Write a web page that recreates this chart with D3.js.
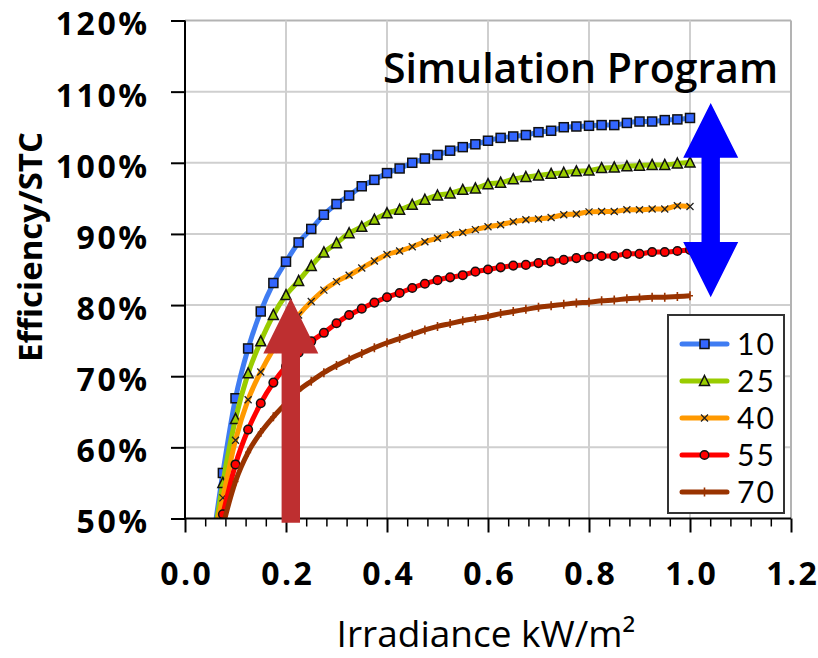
<!DOCTYPE html>
<html>
<head>
<meta charset="utf-8">
<script src="https://cdn.jsdelivr.net/npm/d3@7"></script>
<style>
  body { margin: 0; background: #fff; }
  svg text { font-family: "Open Sans", Lato, sans-serif; }
</style>
</head>
<body>
<div id="wrapper"></div>
<script>
// 1. data
const irradiance = [0.05, 0.075, 0.1, 0.125, 0.15, 0.175, 0.2, 0.225, 0.25, 0.275, 0.3, 0.325, 0.35, 0.375,
  0.4, 0.425, 0.45, 0.475, 0.5, 0.525, 0.55, 0.575, 0.6, 0.625, 0.65, 0.675, 0.7, 0.725, 0.75, 0.775,
  0.8, 0.825, 0.85, 0.875, 0.9, 0.925, 0.95, 0.975, 1.0]

const eff10 = [44.1, 56.4, 66.9, 73.9, 79.1, 83.1, 86.1, 88.8, 90.7, 92.7, 94.2, 95.4, 96.7, 97.6,
  98.55, 99.2, 100.0, 100.6, 101.1, 101.7, 102.2, 102.6, 103.1, 103.5, 103.7, 103.9, 104.3, 104.5, 105.0, 105.1,
  105.2, 105.3, 105.3, 105.6, 105.8, 105.8, 106.0, 106.1, 106.3]
const eff25 = [43.6, 55.0, 64.0, 70.4, 74.9, 78.6, 81.4, 83.4, 85.5, 87.4, 88.7, 90.1, 91.0, 92.0,
  92.9, 93.4, 94.1, 94.8, 95.4, 95.7, 96.2, 96.4, 97.0, 97.2, 97.7, 98.0, 98.2, 98.45, 98.6, 98.8,
  98.9, 99.25, 99.35, 99.5, 99.6, 99.7, 99.7, 99.9, 100.05]
const eff40 = [45.0, 52.9, 61.0, 66.7, 70.6, 73.8, 76.4, 78.6, 80.5, 82.1, 83.3, 84.2, 85.2, 86.2,
  87.1, 87.6, 88.2, 88.9, 89.4, 89.9, 90.2, 90.6, 91.0, 91.3, 91.7, 92.0, 92.1, 92.3, 92.7, 92.8,
  93.1, 93.15, 93.15, 93.4, 93.4, 93.5, 93.5, 93.95, 93.85]
const eff55 = [43.0, 50.6, 57.6, 62.5, 66.2, 69.1, 71.4, 73.3, 74.9, 76.1, 77.45, 78.6, 79.5, 80.35,
  81.1, 81.7, 82.4, 83.0, 83.5, 83.9, 84.2, 84.7, 85.0, 85.3, 85.55, 85.65, 85.9, 86.1, 86.35, 86.6,
  86.8, 86.9, 86.9, 87.2, 87.2, 87.45, 87.45, 87.6, 87.75]
const eff70 = [41.0, 48.9, 55.2, 59.3, 62.1, 64.3, 66.2, 68.0, 69.3, 70.5, 71.5, 72.4, 73.2, 74.0,
  74.7, 75.3, 75.9, 76.5, 77.0, 77.4, 77.8, 78.1, 78.4, 78.8, 79.1, 79.4, 79.7, 79.9, 80.1, 80.3,
  80.4, 80.6, 80.7, 80.9, 81.0, 81.1, 81.1, 81.2, 81.3]

const seriesNames = ["10", "25", "40", "55", "70"]
const seriesColors = ["#3f7cf2", "#99cc00", "#ff9900", "#ff0000", "#993300"]
const seriesMarkers = ["square", "triangle", "cross", "circle", "plus"]
const seriesValues = [eff10, eff25, eff40, eff55, eff70]

const xTicks = [0, 0.2, 0.4, 0.6, 0.8, 1.0, 1.2]
const xMinorTicks = [0.04, 0.08, 0.12, 0.16, 0.24, 0.28, 0.32, 0.36, 0.44, 0.48, 0.52, 0.56,
  0.64, 0.68, 0.72, 0.76, 0.84, 0.88, 0.92, 0.96, 1.04, 1.08, 1.12, 1.16]
const yTicks = [50, 60, 70, 80, 90, 100, 110, 120]

// annotation arrows, in data units
const blueArrow = { x: 1.041, top: 108.4, topBase: 100.7, bottomBase: 88.85, bottom: 81.1 }
const redArrow = { x: 0.2095, tip: 81.0, base: 73.2, bottom: 49.4 }

// 2. dimensions
const dimensions = {
  width: 818,
  height: 658,
  margins: { top: 20.5, right: 27, bottom: 139.5, left: 185 },
}
dimensions.boundedWidth = dimensions.width - dimensions.margins.left - dimensions.margins.right
dimensions.boundedHeight = dimensions.height - dimensions.margins.top - dimensions.margins.bottom

// 3. canvas
const wrapper = d3.select("#wrapper").append("svg")
  .attr("width", dimensions.width)
  .attr("height", dimensions.height)

const bounds = wrapper.append("g")
  .attr("transform", `translate(${dimensions.margins.left},${dimensions.margins.top})`)

bounds.append("clipPath").attr("id", "plot-clip")
  .append("rect")
  .attr("width", dimensions.boundedWidth)
  .attr("height", dimensions.boundedHeight)

// scales
const xScale = d3.scaleLinear().domain([0, 1.2]).range([0, dimensions.boundedWidth])
const yScale = d3.scaleLinear().domain([50, 120]).range([dimensions.boundedHeight, 0])

// gridlines
bounds.append("g").selectAll("line").data(yTicks.slice(1)).join("line")
  .attr("x1", 0).attr("x2", dimensions.boundedWidth)
  .attr("y1", d => yScale(d)).attr("y2", d => yScale(d))
  .attr("stroke", d => d === 120 ? "#b3b3b3" : "#cfcfcf")
  .attr("stroke-width", 2)
bounds.append("g").selectAll("line").data(xTicks.slice(1)).join("line")
  .attr("y1", 0).attr("y2", dimensions.boundedHeight)
  .attr("x1", d => xScale(d)).attr("x2", d => xScale(d))
  .attr("stroke", d => d === 1.2 ? "#b3b3b3" : "#cfcfcf")
  .attr("stroke-width", 2)

// series
const lineGenerator = d3.line()
  .x(d => xScale(d.x))
  .y(d => yScale(d.y))
  .curve(d3.curveMonotoneX)

const plot = bounds.append("g").attr("clip-path", "url(#plot-clip)")

function drawMarker(g, type) {
  if (type === "square") {
    g.append("rect").attr("x", -4.5).attr("y", -4.5).attr("width", 9).attr("height", 9)
      .attr("fill", "#3366ff").attr("stroke", "#111").attr("stroke-width", 1.5)
  } else if (type === "triangle") {
    g.append("path").attr("d", "M0,-5.5L5,4.5L-5,4.5Z")
      .attr("fill", "#99cc00").attr("stroke", "#111").attr("stroke-width", 1.5)
  } else if (type === "cross") {
    g.append("path").attr("d", "M-3.5,-3.5L3.5,3.5M-3.5,3.5L3.5,-3.5")
      .attr("stroke", "#222").attr("stroke-width", 1.3)
  } else if (type === "circle") {
    g.append("circle").attr("r", 4.3)
      .attr("fill", "#ff0000").attr("stroke", "#111").attr("stroke-width", 1.5)
  } else if (type === "plus") {
    g.append("path").attr("d", "M0,-4.5L0,4.5M-3,0L3,0")
      .attr("stroke", "#993300").attr("stroke-width", 1.6)
  }
}

seriesValues.forEach((values, i) => {
  const data = irradiance.map((x, j) => ({ x, y: values[j] }))
  plot.append("path")
    .attr("d", lineGenerator(data))
    .attr("fill", "none")
    .attr("stroke", seriesColors[i])
    .attr("stroke-width", 5)
    .attr("stroke-linejoin", "round")
  plot.append("g").selectAll("g")
    .data(data.filter(d => d.y >= 50))
    .join("g")
    .attr("transform", d => `translate(${xScale(d.x)},${yScale(d.y)})`)
    .each(function() { drawMarker(d3.select(this), seriesMarkers[i]) })
})

// axes
const yAxis = bounds.append("g")
  .call(d3.axisLeft(yScale).tickValues(yTicks).tickSize(14).tickPadding(21.5)
    .tickFormat(d => d + "%"))
yAxis.select(".domain").remove()
yAxis.selectAll(".tick line").attr("stroke", "#000").attr("stroke-width", 2)
yAxis.selectAll("text").attr("font-size", 32).attr("font-weight", 700).attr("fill", "#000")
  .attr("letter-spacing", 2.5).attr("dy", "0.45em")

const xAxis = bounds.append("g")
  .attr("transform", `translate(0,${dimensions.boundedHeight})`)
  .call(d3.axisBottom(xScale).tickValues(xTicks).tickSize(14).tickPadding(30)
    .tickFormat(d3.format(".1f")))
xAxis.select(".domain").remove()
xAxis.selectAll(".tick line").attr("stroke", "#000").attr("stroke-width", 2)
xAxis.selectAll("text").attr("font-size", 32).attr("font-weight", 700).attr("fill", "#000")
  .attr("letter-spacing", 2.5).attr("dx", 1.25)

const xMinor = bounds.append("g")
  .attr("transform", `translate(0,${dimensions.boundedHeight})`)
  .call(d3.axisBottom(xScale).tickValues(xMinorTicks).tickSize(8).tickFormat(""))
xMinor.select(".domain").remove()
xMinor.selectAll(".tick line").attr("stroke", "#000").attr("stroke-width", 1.5)

// axis lines
bounds.append("line")
  .attr("x1", 0).attr("x2", 0).attr("y1", 0).attr("y2", dimensions.boundedHeight)
  .attr("stroke", "#000").attr("stroke-width", 2)
bounds.append("line")
  .attr("x1", 0).attr("x2", dimensions.boundedWidth)
  .attr("y1", dimensions.boundedHeight).attr("y2", dimensions.boundedHeight)
  .attr("stroke", "#000").attr("stroke-width", 2)

// arrows
const headHalf = 27.5
const shaftHalf = 9.2
const bx = xScale(blueArrow.x)
bounds.append("path")
  .attr("d", [
    [bx, yScale(blueArrow.top)],
    [bx + headHalf, yScale(blueArrow.topBase)],
    [bx + shaftHalf, yScale(blueArrow.topBase)],
    [bx + shaftHalf, yScale(blueArrow.bottomBase)],
    [bx + headHalf, yScale(blueArrow.bottomBase)],
    [bx, yScale(blueArrow.bottom)],
    [bx - headHalf, yScale(blueArrow.bottomBase)],
    [bx - shaftHalf, yScale(blueArrow.bottomBase)],
    [bx - shaftHalf, yScale(blueArrow.topBase)],
    [bx - headHalf, yScale(blueArrow.topBase)],
  ].map((p, i) => (i ? "L" : "M") + p.join(",")).join("") + "Z")
  .attr("fill", "#0000ff")

const rx = xScale(redArrow.x)
bounds.append("path")
  .attr("d", [
    [rx, yScale(redArrow.tip)],
    [rx + headHalf, yScale(redArrow.base)],
    [rx + shaftHalf, yScale(redArrow.base)],
    [rx + shaftHalf, yScale(redArrow.bottom)],
    [rx - shaftHalf, yScale(redArrow.bottom)],
    [rx - shaftHalf, yScale(redArrow.base)],
    [rx - headHalf, yScale(redArrow.base)],
  ].map((p, i) => (i ? "L" : "M") + p.join(",")).join("") + "Z")
  .attr("fill", "#be2f30")

// legend
const legend = bounds.append("g")
  .attr("transform", `translate(${668 - dimensions.margins.left},${315 - dimensions.margins.top})`)
legend.append("rect")
  .attr("width", 116).attr("height", 198)
  .attr("fill", "#fff").attr("stroke", "#333").attr("stroke-width", 2)
const legendItems = legend.selectAll(".item").data(seriesNames).join("g")
  .attr("class", "item")
  .attr("transform", (d, i) => `translate(0,${29 + i * 37})`)
legendItems.append("line")
  .attr("x1", 14).attr("x2", 59)
  .attr("stroke", (d, i) => seriesColors[i])
  .attr("stroke-width", 5).attr("stroke-linecap", "round")
legendItems.append("g")
  .attr("transform", "translate(36.5,0)")
  .each(function(d, i) { drawMarker(d3.select(this), seriesMarkers[i]) })
legendItems.append("text")
  .attr("x", 69).attr("dy", "0.36em")
  .attr("font-size", 30).attr("fill", "#000")
  .attr("letter-spacing", 2)
  .style("font-family", "Lato, sans-serif")
  .text(d => d)

// titles
wrapper.append("text")
  .attr("x", 778).attr("y", 83)
  .attr("text-anchor", "end")
  .attr("font-size", 41).attr("font-weight", 600).attr("fill", "#000")
  .text("Simulation Program")

wrapper.append("text")
  .attr("transform", "translate(42,247) rotate(-90)")
  .attr("text-anchor", "middle")
  .attr("font-size", 33).attr("font-weight", 700).attr("fill", "#000")
  .text("Efficiency/STC")

wrapper.append("text")
  .attr("x", 486).attr("y", 647)
  .attr("text-anchor", "middle")
  .attr("font-size", 37).attr("fill", "#000")
  .text("Irradiance kW/m²")
</script>
</body>
</html>
